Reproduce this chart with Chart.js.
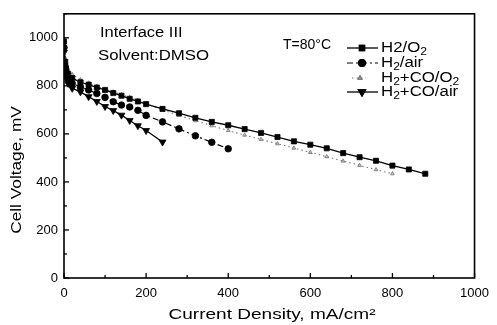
<!DOCTYPE html>
<html>
<head>
<meta charset="utf-8">
<script src="https://cdn.jsdelivr.net/npm/chart.js@4/dist/chart.umd.min.js"></script>
<style>
  html, body { margin: 0; padding: 0; background: #fff; }
  #wrap { width: 497px; height: 325px; position: relative; }
</style>
</head>
<body>
<div id="wrap"><canvas id="c" width="497" height="325"></canvas></div>
<script>
// ---- Data ----
const xTicks = [0, 200, 400, 600, 800, 1000];
const yTicks = [0, 200, 400, 600, 800, 1000];

const h2o2X = [0, 3, 5, 10, 20, 40, 60, 80, 100, 120, 140, 160, 180, 200, 240, 280, 320, 360, 400, 440, 480, 520, 560, 600, 640, 680, 720, 760, 800, 840, 880];
const h2o2Y = [985, 900, 870, 850, 832, 815, 805, 793, 783, 770, 759, 746, 735, 724, 704, 686, 667, 650, 636, 620, 604, 587, 569, 555, 540, 520, 503, 488, 468, 452, 434];

const h2airX = [0, 3, 5, 10, 20, 40, 60, 80, 100, 120, 140, 160, 180, 200, 240, 280, 320, 360, 400];
const h2airY = [960, 880, 855, 830, 810, 795, 783, 768, 752, 734, 720, 712, 698, 677, 650, 621, 592, 565, 538];

const coO2X = [0, 3, 5, 10, 20, 40, 60, 80, 100, 120, 140, 160, 180, 200, 240, 280, 320, 360, 400, 440, 480, 520, 560, 600, 640, 680, 720, 760, 800];
const coO2Y = [995, 915, 895, 870, 848, 826, 812, 798, 786, 775, 764, 752, 740, 726, 700, 677, 655, 634, 614, 595, 577, 559, 541, 523, 505, 487, 469, 451, 434];

const coAirX = [0, 3, 5, 10, 20, 40, 60, 80, 100, 120, 140, 160, 180, 200, 240];
const coAirY = [940, 860, 835, 810, 790, 775, 755, 735, 714, 697, 678, 656, 634, 614, 566];

// legend labels: [text, isSubscript] segments
const seriesNames = [
  [['H2/O', false], ['2', true]],
  [['H', false], ['2', true], ['/air', false]],
  [['H', false], ['2', true], ['+CO/O', false], ['2', true]],
  [['H', false], ['2', true], ['+CO/air', false]]
];

const FONT = '"Liberation Sans", Arial, sans-serif';

function pts(xs, ys) { return xs.map((x, i) => ({ x: x, y: ys[i] })); }
function plain(segs) { return segs.map(s => s[0]).join(''); }

const styles = [
  { borderColor: '#000', backgroundColor: '#000', borderWidth: 1.3, pointStyle: 'rect', pointRadius: 3.6, borderDash: [] },
  { borderColor: '#000', backgroundColor: '#000', borderWidth: 1.2, pointStyle: 'circle', pointRadius: 3.3, borderDash: [6, 3, 2, 3] },
  { borderColor: '#777', backgroundColor: '#bbb', borderWidth: 1.1, pointStyle: 'triangle', pointRadius: 2.2, borderDash: [1.5, 3] },
  { borderColor: '#000', backgroundColor: '#000', borderWidth: 1.3, pointStyle: 'triangle', pointRotation: 180, pointRadius: 4, borderDash: [] }
];
const seriesData = [pts(h2o2X, h2o2Y), pts(h2airX, h2airY), pts(coO2X, coO2Y), pts(coAirX, coAirY)];

const datasets = seriesData.map((d, i) => Object.assign({
  label: plain(seriesNames[i]), data: d, pointBorderWidth: 0.8,
  pointBorderColor: styles[i].borderColor, tension: 0, fill: false
}, styles[i]));

function drawText(ctx, text, x, y, size, sx, align) {
  ctx.save();
  ctx.font = size + 'px ' + FONT;
  ctx.textBaseline = 'middle';
  ctx.textAlign = 'left';
  const w = ctx.measureText(text).width * sx;
  let x0 = x;
  if (align === 'center') x0 = x - w / 2;
  ctx.translate(x0, y);
  ctx.scale(sx, 1);
  ctx.fillText(text, 0, 0);
  ctx.restore();
}

function drawRich(ctx, segs, x, y, size, sx) {
  ctx.save();
  ctx.translate(x, y);
  ctx.scale(sx, 1);
  ctx.textBaseline = 'middle';
  ctx.textAlign = 'left';
  let cx = 0;
  segs.forEach(([t, sub]) => {
    const s = sub ? size * 0.72 : size;
    ctx.font = s + 'px ' + FONT;
    ctx.fillText(t, cx, sub ? 4 : 0);
    cx += ctx.measureText(t).width;
  });
  ctx.restore();
}

const framePlugin = {
  id: 'frame',
  afterDraw(chart) {
    const ctx = chart.ctx, a = chart.chartArea;
    const xs = chart.scales.x, ys = chart.scales.y;
    ctx.save();
    ctx.strokeStyle = '#000';
    ctx.lineWidth = 1.6;
    ctx.strokeRect(a.left, a.top, a.right - a.left, a.bottom - a.top);
    ctx.lineWidth = 1.3;
    for (let v = 0; v <= 1000; v += 100) {
      const p = xs.getPixelForValue(v);
      const len = (v % 200 === 0) ? 5 : 3;
      ctx.beginPath(); ctx.moveTo(p, a.bottom); ctx.lineTo(p, a.bottom - len); ctx.stroke();
    }
    for (let v = 0; v <= 1100; v += 100) {
      const p = ys.getPixelForValue(v);
      const len = (v % 200 === 0) ? 5 : 3;
      ctx.beginPath(); ctx.moveTo(a.left, p); ctx.lineTo(a.left + len, p); ctx.stroke();
    }
    ctx.fillStyle = '#000';
    // Axis titles
    drawText(ctx, 'Current Density, mA/cm\u00B2', 272, 315, 15, 1.27, 'center');
    ctx.save();
    ctx.translate(17, 170);
    ctx.rotate(-Math.PI / 2);
    drawText(ctx, 'Cell Voltage, mV', 0, 0, 15, 1.15, 'center');
    ctx.restore();
    // Annotations
    drawText(ctx, 'Interface III', 100, 33, 14, 1.18, 'left');
    drawText(ctx, 'Solvent:DMSO', 98, 56, 14, 1.2, 'left');
    drawText(ctx, 'T=80\u00B0C', 283, 45, 14, 1.0, 'left');
    // Legend
    const rowsY = [48, 63, 78, 92];
    chart.data.datasets.forEach((d, i) => {
      const y = rowsY[i];
      ctx.strokeStyle = d.borderColor;
      ctx.lineWidth = d.borderWidth;
      ctx.setLineDash(d.borderDash || []);
      ctx.beginPath();
      if (i === 2) { ctx.moveTo(352, y); ctx.lineTo(366, y); }
      else { ctx.moveTo(347, y); ctx.lineTo(378, y); }
      ctx.stroke();
      ctx.setLineDash([]);
      Chart.helpers.drawPoint(ctx, {
        pointStyle: d.pointStyle, rotation: d.pointRotation || 0, radius: d.pointRadius,
        borderWidth: d.pointBorderWidth
      }, i === 2 ? 360 : 362, y);
      ctx.fillStyle = d.backgroundColor; ctx.strokeStyle = d.borderColor;
      ctx.fill(); ctx.stroke();
      ctx.fillStyle = '#000';
      drawRich(ctx, seriesNames[i], 381, y, 14, 1.2);
    });
    ctx.restore();
  }
};

new Chart(document.getElementById('c'), {
  type: 'line',
  data: { datasets: datasets },
  options: {
    responsive: false,
    animation: false,
    devicePixelRatio: 1,
    layout: { padding: { top: 13, right: 15, left: 0, bottom: 0 } },
    plugins: { legend: { display: false }, tooltip: { enabled: false } },
    scales: {
      x: {
        type: 'linear', min: 0, max: 1000,
        afterFit: s => { s.height = 47; },
        afterBuildTicks: s => { s.ticks = xTicks.map(v => ({ value: v })); },
        grid: { display: false, drawTicks: false },
        border: { display: false },
        ticks: { color: '#000', padding: 8, font: { family: FONT, size: 13 }, maxRotation: 0,
                 callback: v => String(v) }
      },
      y: {
        type: 'linear', min: 0, max: 1100,
        afterFit: s => { s.width = 64; },
        afterBuildTicks: s => { s.ticks = yTicks.map(v => ({ value: v })); },
        grid: { display: false, drawTicks: false },
        border: { display: false },
        ticks: { color: '#000', padding: 6, font: { family: FONT, size: 13 },
                 callback: v => String(v) }
      }
    }
  },
  plugins: [framePlugin]
});
</script>
</body>
</html>
